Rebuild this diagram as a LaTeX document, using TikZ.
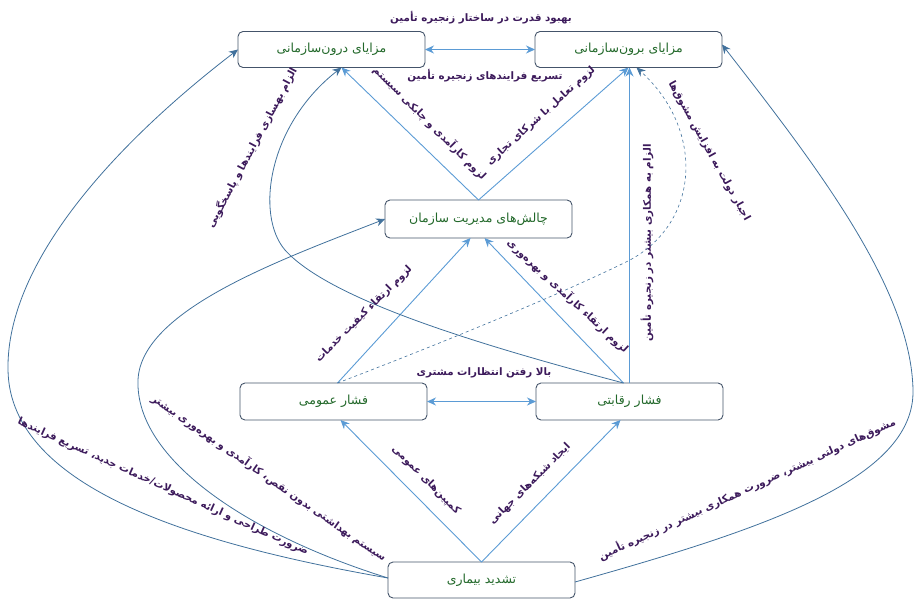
\documentclass[tikz,border=0pt]{standalone}
\usepackage{fontspec}
\newfontfamily\fafont[Script=Arabic]{DejaVu Sans}
\TeXXeTstate=1
\usetikzlibrary{arrows.meta}
\definecolor{lightline}{HTML}{5B9BD5}
\definecolor{darkline}{HTML}{41719C}
\definecolor{boxline}{HTML}{44546A}
\definecolor{boxtext}{HTML}{22682A}
\definecolor{labeltext}{HTML}{3C1A5B}
\newcommand{\fatext}[1]{\fafont\beginR #1\endR}
\begin{document}
\begin{tikzpicture}[x=1pt,y=-1pt,inner sep=0pt,outer sep=0pt,
box/.style={draw=boxline,rectangle,rounded corners=5pt,minimum width=187pt,minimum height=36pt,line width=0.9pt,text=boxtext,font=\fontsize{12.5}{14}\selectfont},
lbl/.style={text=labeltext,font=\fontsize{10.3}{12}\selectfont\bfseries},
light/.style={draw=lightline,line width=0.9pt},
dark/.style={draw=darkline,line width=0.8pt},
tip/.style={-{Stealth[length=9pt,width=8pt]}},
dtip/.style={{Stealth[length=9pt,width=8pt]}-{Stealth[length=9pt,width=8pt]}}]
\useasboundingbox (0,0) rectangle (915,598);
% boxes
\draw (331.5,49.5) node[box] (dr) {\fatext{مزایای درون‌سازمانی}};
\draw (628.5,49.5) node[box] (br) {\fatext{مزایای برون‌سازمانی}};
\draw (478.5,219) node[box,minimum height=38pt] (ch) {\fatext{چالش‌های مدیریت سازمان}};
\draw (333.5,401.5) node[box,minimum height=37pt] (fo) {\fatext{فشار عمومی}};
\draw (629.5,401.5) node[box,minimum height=37pt] (fr) {\fatext{فشار رقابتی}};
\draw (481.5,580) node[box] (ts) {\fatext{تشدید بیماری}};
% straight links
\draw[light,dtip] (dr.east) -- (br.west);
\draw[light,dtip] (fo.east) -- (fr.west);
\draw[light,tip] (ch.north) -- ([xshift=10pt]dr.south);
\draw[light,tip] (ch.north) -- (br.south);
\draw[light,tip] (fr.north) -- (fr.north |- br.south);
\draw[light,tip] ([xshift=4pt]fo.north) -- ([xshift=-8pt]ch.south);
\draw[light,tip] ([xshift=-6pt]fr.north) -- ([xshift=6pt]ch.south);
\draw[light,tip] (ts.north) -- ([xshift=7pt]fo.south);
\draw[light,tip] (ts.north) -- ([xshift=-9pt]fr.south);
\draw[darkline,line width=0.6pt,dashed,tip] ([xshift=4pt]fo.north) .. controls (450,340) and (570,290) .. (630,260)
  .. controls (700,222) and (705,130) .. ([xshift=8pt]br.south);
% curved links
\draw[dark,tip] ([xshift=-6pt]fr.north) .. controls (480,345) and (330,300) .. (285,250)
  .. controls (255,215) and (268,125) .. ([xshift=10pt]dr.south);
\draw[dark,tip] ([yshift=2pt]ts.west) .. controls (200,545) and (10,490) .. (8,370)
  .. controls (6,260) and (120,140) .. (dr.west);
\draw[dark,tip] ([yshift=2pt]ts.west) .. controls (250,535) and (135,460) .. (138,380)
  .. controls (141,310) and (280,260) .. (ch.west);
\draw[dark,tip] ([yshift=-2pt]ts.east) .. controls (760,530) and (915,480) .. (913,390)
  .. controls (911,290) and (820,170) .. ([yshift=5pt]br.east);
% labels
\draw (481,18) node[lbl] (l1) {\fatext{بهبود قدرت در ساختار زنجیره تأمین}};
\draw (485,76) node[lbl] (l2) {\fatext{تسریع فرایندهای زنجیره تأمین}};
\draw (484,373) node[lbl] (l3) {\fatext{بالا رفتن انتظارات مشتری}};
\draw (430,123) node[lbl,rotate=-45] (l4) {\fatext{لزوم کارآمدی و چابکی سیستم}};
\draw (541,116) node[lbl,rotate=42] (l5) {\fatext{لزوم تعامل با شرکای تجاری}};
\draw (647,243) node[lbl,rotate=90] (l6) {\fatext{الزام به همکاری بیشتر در زنجیره تأمین}};
\draw (709,151) node[lbl,rotate=-61] (l7) {\fatext{اجبار دولت به افزایش مشوق‌ها}};
\draw (364,314) node[lbl,rotate=45] (l8) {\fatext{لزوم ارتقاء کیفیت خدمات}};
\draw (568,296) node[lbl,rotate=-43] (l9) {\fatext{لزوم ارتقاء کارآمدی و بهره‌وری}};
\draw (252,148) node[lbl,rotate=62] (l10) {\fatext{الزام بهسازی فرایندها و پاسخگویی}};
\draw (163,487) node[lbl,rotate=-24.4] (l11) {\fatext{ضرورت طراحی و ارائه محصولات/خدمات جدید، تسریع فرایندها}};
\draw (269,478) node[lbl,rotate=-34.8] (l12) {\fatext{سیستم بهداشتی بدون نقص، کارآمدی و بهره‌وری بیشتر}};
\draw (747,489) node[lbl,rotate=24.6] (l13) {\fatext{مشوق‌های دولتی بیشتر، ضرورت همکاری بیشتر در زنجیره تأمین}};
\draw (426,480) node[lbl,rotate=-45] (l14) {\fatext{کمپین‌های عمومی}};
\draw (530,484) node[lbl,rotate=45] (l15) {\fatext{ایجاد شبکه‌های جهانی}};
\end{tikzpicture}
\end{document}
